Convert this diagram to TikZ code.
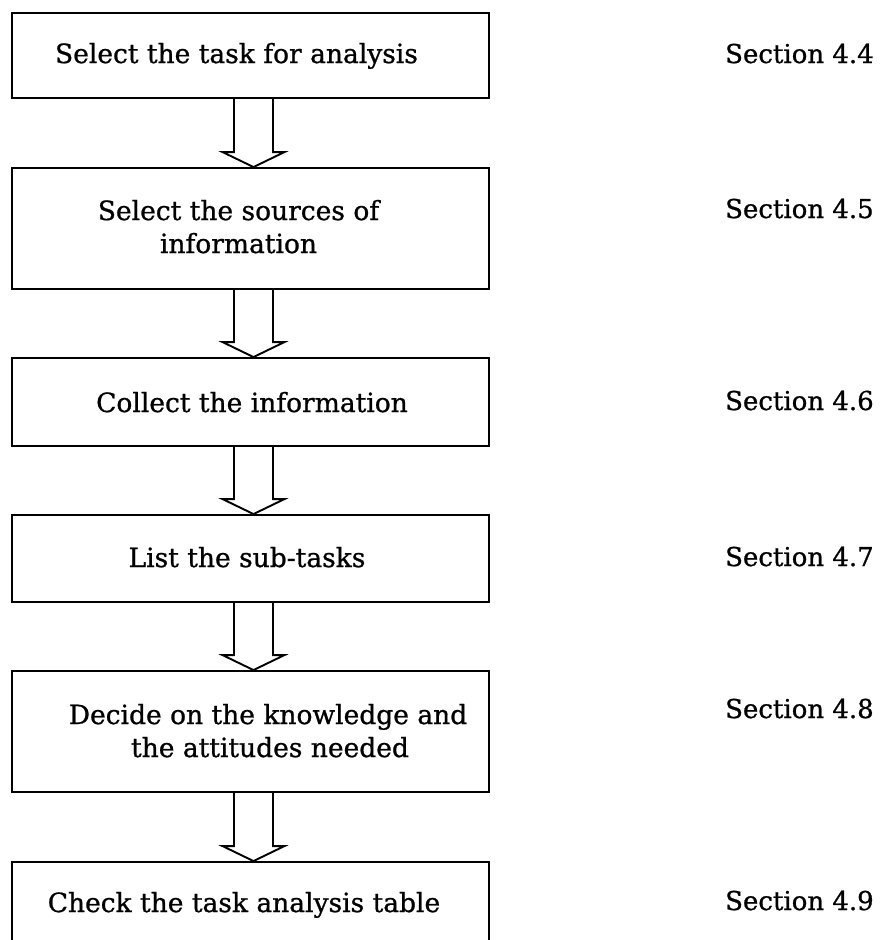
\documentclass[tikz,border=0pt]{standalone}
\usepackage{fontspec}
\setmainfont[FakeBold=0.9]{DejaVu Serif}
\usetikzlibrary{calc}

\tikzset{
  stagebox/.style={draw, line width=1.9pt, minimum width=477pt, inner sep=0pt},
  stagetext/.style={anchor=base, inner sep=0pt, font=\fontsize{26.5}{33}\selectfont},
  sectiontext/.style={anchor=base west, inner sep=0pt, font=\fontsize{26}{33}\selectfont},
  hollowarrow/.style={draw, line width=1.9pt, line join=miter},
}

% hollow block arrow from the bottom of one stage to the top of the next
\newcommand\stagearrow[2]{%
  \draw[hollowarrow]
    ($(#1.south)+(-16.5,0)$) -- ($(#2.north)+(-16.5,-15)$)
    -- ($(#2.north)+(-28,-15)$) -- ($(#2.north)+(3,0)$)
    -- ($(#2.north)+(34,-15)$) -- ($(#2.north)+(22.5,-15)$)
    -- ($(#1.south)+(22.5,0)$);}

\begin{document}
\begin{tikzpicture}[x=1pt, y=-1pt]
  \useasboundingbox (0,0) rectangle (879,940);
  \clip (0,0) rectangle (879,940);

  % stage boxes
  \node[stagebox, minimum height=85pt]  (s1) at (250.5,55.5)  {};
  \node[stagebox, minimum height=121pt] (s2) at (250.5,228.5) {};
  \node[stagebox, minimum height=88pt]  (s3) at (250.5,402)   {};
  \node[stagebox, minimum height=87pt]  (s4) at (250.5,558.5) {};
  \node[stagebox, minimum height=121pt] (s5) at (250.5,731.5) {};
  \node[stagebox, minimum height=88pt]  (s6) at (250.5,906)   {};

  % stage labels
  \node[stagetext] (t1)  at (236.5,63)  {Select the task for analysis};
  \node[stagetext] (t2a) at (238.5,220) {Select the sources of};
  \node[stagetext] (t2b) at (238.5,253) {information};
  \node[stagetext] (t3)  at (252,412)   {Collect the information};
  \node[stagetext] (t4)  at (247,567)   {List the sub-tasks};
  \node[stagetext] (t5a) at (268,724)   {Decide on the knowledge and};
  \node[stagetext] (t5b) at (270,757)   {the attitudes needed};
  \node[stagetext] (t6)  at (244,912)   {Check the task analysis table};

  % section references
  \node[sectiontext] (r1) at (725,63)  {Section 4.4};
  \node[sectiontext] (r2) at (725,218) {Section 4.5};
  \node[sectiontext] (r3) at (725,410) {Section 4.6};
  \node[sectiontext] (r4) at (725,566) {Section 4.7};
  \node[sectiontext] (r5) at (725,718) {Section 4.8};
  \node[sectiontext] (r6) at (725,910) {Section 4.9};

  % flow arrows
  \stagearrow{s1}{s2}
  \stagearrow{s2}{s3}
  \stagearrow{s3}{s4}
  \stagearrow{s4}{s5}
  \stagearrow{s5}{s6}
\end{tikzpicture}
\end{document}
